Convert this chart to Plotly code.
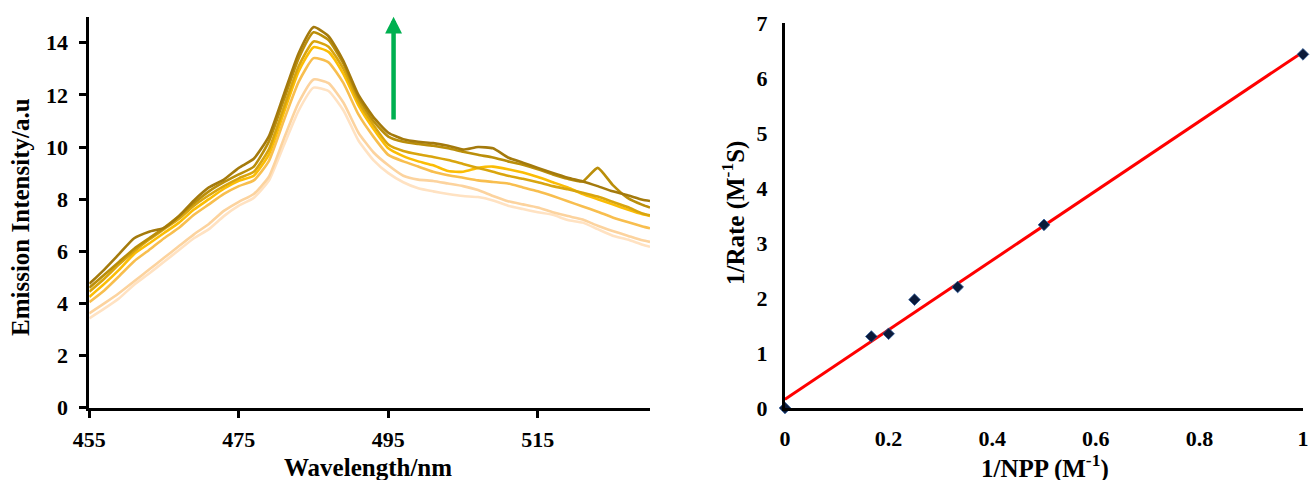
import numpy as np
import plotly.graph_objects as go

# ---------------- data ----------------
wavelength = [455, 457, 459, 461, 463, 465, 467, 469, 471, 473, 475, 477, 479, 481, 483, 485,
              487, 489, 491, 493, 495, 497, 499, 501, 503, 505, 507, 509, 511, 513, 515, 517,
              519, 521, 523, 525, 527, 529, 530]

em_1 = [4.75, 5.3, 5.9, 6.5, 6.75, 6.9, 7.35, 7.95, 8.45, 8.75,
        9.2, 9.55, 10.4, 12.0, 13.6, 14.6, 14.25, 13.3, 12.0, 11.15,
        10.55, 10.3, 10.2, 10.15, 10.05, 9.9, 10.0, 9.95, 9.6, 9.4,
        9.2, 9.0, 8.82, 8.68, 8.5, 8.3, 8.15, 7.98, 7.93]
em_2 = [4.6, 5.1, 5.6, 6.1, 6.5, 6.9, 7.35, 7.85, 8.3, 8.65,
        8.95, 9.25, 10.2, 11.8, 13.4, 14.4, 14.1, 13.2, 11.9, 11.0,
        10.4, 10.2, 10.12, 10.05, 9.95, 9.82, 9.7, 9.6, 9.45, 9.32,
        9.15, 8.95, 8.78, 8.68, 9.2, 8.55, 8.05, 7.78, 7.68]
em_3 = [4.45, 4.95, 5.5, 6.0, 6.45, 6.85, 7.25, 7.75, 8.15, 8.5,
        8.8, 9.05, 9.9, 11.5, 13.1, 14.05, 13.85, 13.0, 11.75, 10.85,
        10.1, 9.85, 9.72, 9.62, 9.5, 9.35, 9.2, 9.05, 8.9, 8.78,
        8.65, 8.5, 8.38, 8.25, 8.1, 7.9, 7.7, 7.45, 7.38]
em_4 = [4.25, 4.75, 5.3, 5.9, 6.3, 6.7, 7.1, 7.6, 8.0, 8.4,
        8.7, 8.9, 9.7, 11.3, 12.9, 13.83, 13.65, 12.8, 11.6, 10.7,
        9.95, 9.65, 9.45, 9.3, 9.08, 9.05, 9.2, 9.25, 9.15, 9.02,
        8.85, 8.65, 8.45, 8.2, 8.0, 7.8, 7.6, 7.42, 7.36]
em_5 = [4.05, 4.5, 5.05, 5.62, 6.05, 6.5, 6.9, 7.4, 7.8, 8.2,
        8.5, 8.72, 9.45, 11.0, 12.5, 13.41, 13.25, 12.45, 11.25, 10.4,
        9.7, 9.45, 9.25, 9.05, 8.92, 8.82, 8.72, 8.66, 8.6, 8.45,
        8.3, 8.12, 7.92, 7.72, 7.52, 7.3, 7.12, 6.95, 6.88]
em_6 = [3.62, 4.0, 4.4, 4.85, 5.3, 5.75, 6.2, 6.65, 7.05, 7.55,
        7.9, 8.2, 8.85, 10.3, 11.7, 12.59, 12.45, 11.7, 10.55, 9.8,
        9.3, 8.9, 8.75, 8.7, 8.6, 8.5, 8.35, 8.12, 7.92, 7.8,
        7.68, 7.5, 7.35, 7.22, 6.98, 6.78, 6.6, 6.42, 6.36]
em_7 = [3.43, 3.8, 4.2, 4.72, 5.15, 5.6, 6.05, 6.5, 6.85, 7.35,
        7.75, 8.05, 8.7, 10.05, 11.4, 12.28, 12.15, 11.4, 10.25, 9.5,
        9.0, 8.65, 8.42, 8.3, 8.2, 8.12, 8.08, 7.95, 7.75, 7.62,
        7.5, 7.4, 7.2, 7.1, 6.85, 6.6, 6.45, 6.25, 6.17]

wl_ticks = [455, 475, 495, 515]
em_ticks = [0, 2, 4, 6, 8, 10, 12, 14]

inv_npp = [0, 1 / 6, 0.2, 0.25, 1 / 3, 0.5, 1.0]
inv_rate = [0, 1.30, 1.35, 1.97, 2.20, 3.33, 6.43]
npp_ticks = [0, 0.2, 0.4, 0.6, 0.8, 1]
npp_ticktext = ["0", "0.2", "0.4", "0.6", "0.8", "1"]
rate_ticks = [0, 1, 2, 3, 4, 5, 6, 7]

# ---------------- styling ----------------
FONT = "Liberation Serif"
W, H = 1310, 480
tickfont = dict(family=FONT, size=22, color="black", weight="bold")
titlefont = dict(family=FONT, size=25, color="black", weight="bold")

series = [em_7, em_6, em_5, em_4, em_3, em_2, em_1]
colors = ["#FFE2C2", "#FCD39E", "#F8BE4E", "#FBBD05", "#D9A50E", "#BA8E0A", "#A47A0C"]

fig = go.Figure()
for ys, c in zip(series, colors):
    fig.add_trace(go.Scatter(x=wavelength, y=ys, mode="lines",
                             line=dict(color=c, width=2.6, shape="spline", smoothing=0.5),
                             xaxis="x", yaxis="y", showlegend=False, hoverinfo="skip"))

# right panel: linear trend, then data markers on top
slope, intercept = np.polyfit(inv_npp, inv_rate, 1)
fit_x = [0, 1]
fit_y = [intercept + slope * v for v in fit_x]
fig.add_trace(go.Scatter(x=fit_x, y=fit_y, mode="lines",
                         line=dict(color="#FF0000", width=3),
                         xaxis="x2", yaxis="y2", showlegend=False, cliponaxis=False))
fig.add_trace(go.Scatter(x=inv_npp, y=inv_rate, mode="markers",
                         marker=dict(symbol="diamond", size=9, color="#0B1A3A",
                                     line=dict(color="#2E5C9A", width=0.8)),
                         xaxis="x2", yaxis="y2", showlegend=False, cliponaxis=False))

def px(x):
    return x / W

def py(y):
    return 1 - y / H

axis_common = dict(showline=True, linecolor="black", linewidth=3, showgrid=False,
                   zeroline=False, tickfont=tickfont, automargin=False)

fig.update_layout(
    width=W, height=H,
    margin=dict(l=0, r=0, t=0, b=0, autoexpand=False),
    paper_bgcolor="white", plot_bgcolor="white",
    xaxis=dict(domain=[px(89.3), px(650)], range=[455, 530], tickvals=wl_ticks,
               ticks="outside", ticklen=7, tickwidth=3, tickcolor="black",
               ticklabelstandoff=3, anchor="y", **axis_common),
    yaxis=dict(domain=[py(407.7), py(16.7)], range=[0, 15], tickvals=em_ticks,
               ticks="outside", ticklen=7, tickwidth=3, tickcolor="black",
               ticklabelstandoff=7, anchor="x", **axis_common),
    xaxis2=dict(domain=[px(785), px(1303)], range=[0, 1], tickvals=npp_ticks,
                ticktext=npp_ticktext, ticks="", ticklabelstandoff=9, anchor="y2",
                **axis_common),
    yaxis2=dict(domain=[py(408), py(23)], range=[0, 7], tickvals=rate_ticks,
                ticks="", ticklabelstandoff=10, anchor="x2", **axis_common),
)

annotations = [
    dict(text="Emission Intensity/a.u", x=px(20), y=py(217), xref="paper", yref="paper",
         textangle=-90, showarrow=False, font=titlefont, xanchor="center", yanchor="middle"),
    dict(text="Wavelength/nm", x=px(368), y=py(467), xref="paper", yref="paper",
         showarrow=False, font=titlefont, xanchor="center", yanchor="middle"),
    dict(text="1/NPP (M<sup>-1</sup>)", x=px(1045), y=py(466), xref="paper", yref="paper",
         showarrow=False, font=titlefont, xanchor="center", yanchor="middle"),
    dict(text="1/Rate (M<sup>-1</sup>S)", x=px(733), y=py(213), xref="paper", yref="paper",
         textangle=-90, showarrow=False, font=titlefont, xanchor="center", yanchor="middle"),
    dict(text="", x=495.7, y=15.0, ax=495.7, ay=11.0, xref="x", yref="y", axref="x", ayref="y",
         showarrow=True, arrowhead=2, arrowsize=0.75, arrowwidth=4.5, arrowcolor="#00B050"),
]
fig.update_layout(annotations=annotations)

fig.write_html("out.html", config={"displayModeBar": False},
               post_script="document.body.style.margin='0';document.body.style.overflow='hidden';")
